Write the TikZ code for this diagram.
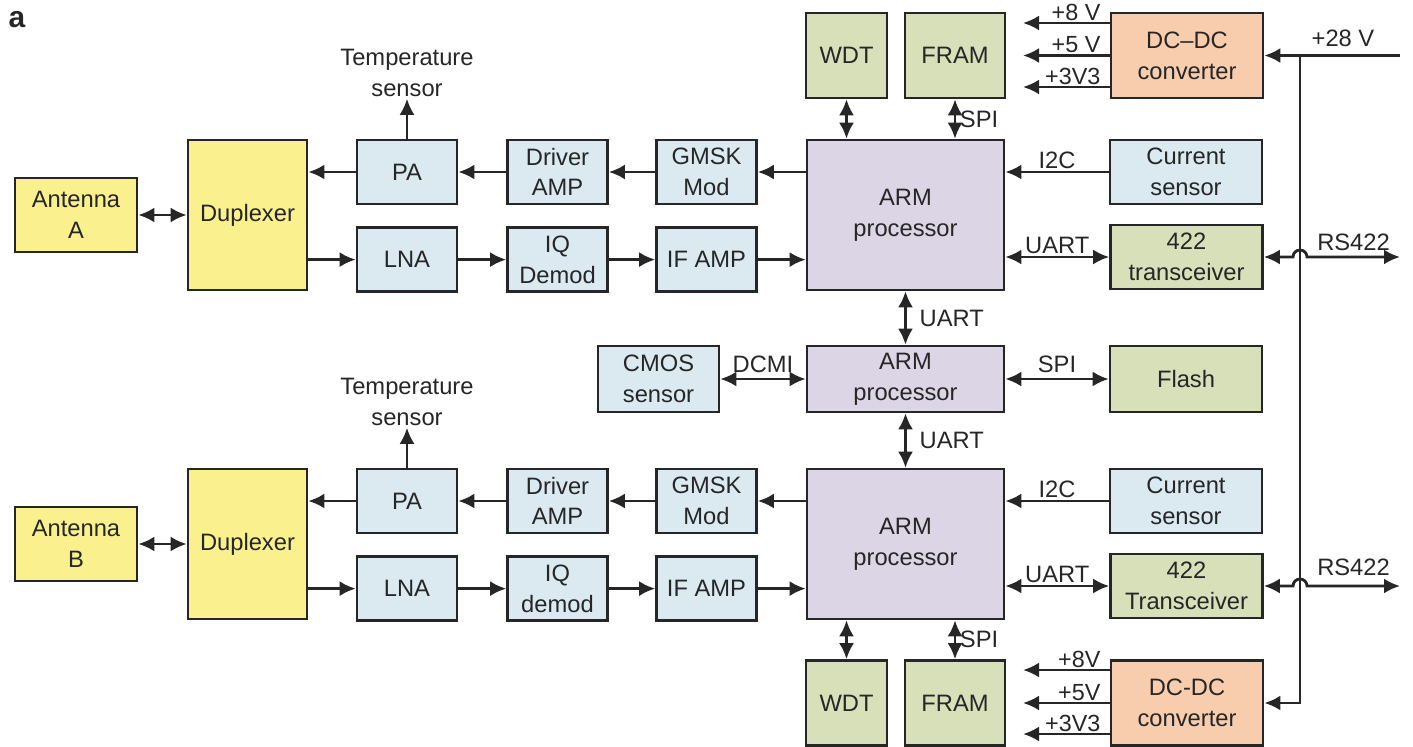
\documentclass[tikz,border=0pt]{standalone}
\usepackage{fontspec}
\setmainfont{Liberation Sans}
\usepackage{tikz}
\usetikzlibrary{arrows.meta,calc,positioning}
\definecolor{SATYellow}{HTML}{FBF08E}
\definecolor{SATBlue}{HTML}{DBEAF1}
\definecolor{SATGreen}{HTML}{D7E0B9}
\definecolor{SATPurple}{HTML}{DCD5E6}
\definecolor{SATOrange}{HTML}{F8CDAE}
\definecolor{SATLine}{HTML}{262626}
\definecolor{SATText}{HTML}{262626}

\begin{document}
\begin{tikzpicture}[x=0.02cm,y=-0.02cm,
    box/.style={draw=SATLine,line width=1.5pt,align=center,inner sep=0pt,
      text=SATText,font=\fontsize{13.5}{17.5}\selectfont},
    rf/.style={box,fill=SATYellow},
    blk/.style={box,fill=SATBlue,minimum width=2cm,minimum height=1.28cm},
    mem/.style={box,fill=SATGreen,minimum height=1.7cm},
    side/.style={box,minimum width=3.04cm,minimum height=1.28cm},
    cpu/.style={box,fill=SATPurple,minimum width=3.94cm},
    pwr/.style={box,fill=SATOrange,minimum width=3.04cm,minimum height=1.7cm},
    lbl/.style={text=SATText,font=\fontsize{13.5}{17.5}\selectfont,inner sep=1pt,align=center},
    vlbl/.style={text=SATText,font=\fontsize{13.3}{14}\selectfont,inner sep=0.5pt,
      anchor=south east,xshift=-0.14cm},
    arrow/.style={-{Latex[length=3.2mm,width=3mm]},line width=1.6pt,draw=SATLine},
    both/.style={arrow,{Latex[length=3.2mm,width=3mm]}-{Latex[length=3.2mm,width=3mm]}}
  ]
  \useasboundingbox (0,0) rectangle (1413,747);
  \node[font=\bfseries\fontsize{17}{17}\selectfont,text=SATText] (panel) at (17,20) {a};

  % upper channel
  \node[rf,minimum width=2.44cm,minimum height=1.48cm] (antA) at (76,215) {Antenna\\A};
  \node[rf,minimum width=2.38cm,minimum height=3cm] (dupA) at (247.5,215) {Duplexer};
  \node[blk] (paA) at (407,172) {PA};
  \node[blk,below=0.42cm of paA] (lnaA) {LNA};
  \node[blk] (drvA) at (557.5,172) {Driver\\AMP};
  \node[blk,below=0.42cm of drvA] (iqA) {IQ\\Demod};
  \node[blk] (gmskA) at (706.5,172) {GMSK\\Mod};
  \node[blk,below=0.42cm of gmskA] (ifA) {IF AMP};
  \node[cpu,minimum height=3cm] (armA) at (905.5,215) {ARM\\processor};
  \node[lbl,inner sep=1pt] (tempA) at (407,73) {Temperature\\sensor};
  \node[mem,minimum width=1.62cm] (wdtA) at (846.5,55.5) {WDT};
  \node[mem,minimum width=2cm] (framA) at (955,55.5) {FRAM};
  \node[pwr] (dcA) at (1187,55.5) {DC–DC\\converter};
  \node[side,fill=SATBlue] (curA) at (1186,172) {Current\\sensor};
  \node[side,fill=SATGreen] (trxA) at (1186.5,257) {422\\transceiver};

  % camera
  \node[box,fill=SATBlue,minimum width=2.42cm,minimum height=1.32cm] (cmos) at (658.5,379) {CMOS\\sensor};
  \node[cpu,minimum height=1.32cm] (armM) at (905.5,379) {ARM\\processor};
  \node[side,fill=SATGreen,minimum height=1.32cm] (flash) at (1186,379) {Flash};

  % lower channel
  \node[rf,minimum width=2.44cm,minimum height=1.48cm] (antB) at (76,544) {Antenna\\B};
  \node[rf,minimum width=2.38cm,minimum height=3cm] (dupB) at (247.5,544) {Duplexer};
  \node[blk] (paB) at (407,501) {PA};
  \node[blk,below=0.42cm of paB] (lnaB) {LNA};
  \node[blk] (drvB) at (557.5,501) {Driver\\AMP};
  \node[blk,below=0.42cm of drvB] (iqB) {IQ\\demod};
  \node[blk] (gmskB) at (706.5,501) {GMSK\\Mod};
  \node[blk,below=0.42cm of gmskB] (ifB) {IF AMP};
  \node[cpu,minimum height=3cm] (armB) at (905.5,544) {ARM\\processor};
  \node[lbl,inner sep=1pt] (tempB) at (407,402) {Temperature\\sensor};
  \node[mem,minimum width=1.62cm] (wdtB) at (846.5,703) {WDT};
  \node[mem,minimum width=2cm] (framB) at (955,703) {FRAM};
  \node[pwr] (dcB) at (1187,703) {DC-DC\\converter};
  \node[side,fill=SATBlue] (curB) at (1186,501) {Current\\sensor};
  \node[side,fill=SATGreen] (trxB) at (1186.5,586) {422\\Transceiver};

  % free ends
  \coordinate (in28) at (1400,55.5);
  \coordinate (bus) at (1300,55.5);
  \coordinate (rsA) at (1400,257);
  \coordinate (rsB) at (1400,586);
  \coordinate (v8A) at (1023,23);
  \coordinate (v5A) at (1023,55.5);
  \coordinate (v3A) at (1023,87);
  \coordinate (v8B) at (1023,670);
  \coordinate (v5B) at (1023,703);
  \coordinate (v3B) at (1023,734);

  % upper RF chain
  \draw[both] (antA) -- (dupA);
  \draw[arrow] (paA) -- (paA -| dupA.east);
  \draw[arrow] (dupA.east |- lnaA) -- (lnaA);
  \draw[arrow] (drvA) -- (paA);
  \draw[arrow] (gmskA) -- (drvA);
  \draw[arrow] (armA.west |- gmskA) -- (gmskA);
  \draw[arrow] (lnaA) -- (iqA);
  \draw[arrow] (iqA) -- (ifA);
  \draw[arrow] (ifA) -- (ifA -| armA.west);
  \draw[arrow] (paA) -- (tempA);
  \draw[both] (wdtA.south) -- (wdtA.south |- armA.north);
  \draw[both] (framA.south) -- (framA.south |- armA.north)
    node[lbl,midway,anchor=west,xshift=1pt] {SPI};
  \draw[arrow] (curA) -- (curA -| armA.east) node[lbl,midway,above] {I2C};
  \draw[both] (armA.east |- trxA) -- (trxA) node[lbl,midway,above] {UART};
  \draw[both] (trxA) -- ($(trxA -| bus)+(-7,0)$)
    arc[start angle=180,end angle=0,radius=0.14cm] -- (rsA)
    node[lbl,midway,above,yshift=2pt] {RS422};

  % processors
  \draw[both] (armA) -- (armM) node[lbl,midway,anchor=west,xshift=0.22cm] {UART};
  \draw[both] (armM) -- (armB) node[lbl,midway,anchor=west,xshift=0.22cm] {UART};
  \draw[both] (cmos) -- (armM) node[lbl,midway,above,yshift=2pt] {DCMI};
  \draw[both] (armM) -- (flash) node[lbl,midway,above,yshift=2pt] {SPI};

  % lower RF chain
  \draw[both] (antB) -- (dupB);
  \draw[arrow] (paB) -- (paB -| dupB.east);
  \draw[arrow] (dupB.east |- lnaB) -- (lnaB);
  \draw[arrow] (drvB) -- (paB);
  \draw[arrow] (gmskB) -- (drvB);
  \draw[arrow] (armB.west |- gmskB) -- (gmskB);
  \draw[arrow] (lnaB) -- (iqB);
  \draw[arrow] (iqB) -- (ifB);
  \draw[arrow] (ifB) -- (ifB -| armB.west);
  \draw[arrow] (paB) -- (tempB);
  \draw[both] (wdtB.north) -- (wdtB.north |- armB.south);
  \draw[both] (framB.north) -- (framB.north |- armB.south)
    node[lbl,midway,anchor=west,xshift=1pt] {SPI};
  \draw[arrow] (curB) -- (curB -| armB.east) node[lbl,midway,above] {I2C};
  \draw[both] (armB.east |- trxB) -- (trxB) node[lbl,midway,above] {UART};
  \draw[both] (trxB) -- ($(trxB -| bus)+(-7,0)$)
    arc[start angle=180,end angle=0,radius=0.14cm] -- (rsB)
    node[lbl,midway,above,yshift=4pt] {RS422};

  % power
  \draw[arrow] (in28) -- (dcA) node[lbl,pos=0.42,above,yshift=3pt] {+28 V};
  \draw[arrow] (bus) |- (dcB);
  \draw[arrow] (v8A -| dcA.west) -- (v8A) node[vlbl,pos=0] {+8 V};
  \draw[arrow] (v5A -| dcA.west) -- (v5A) node[vlbl,pos=0] {+5 V};
  \draw[arrow] (v3A -| dcA.west) -- (v3A) node[vlbl,pos=0] {+3V3};
  \draw[arrow] (v8B -| dcB.west) -- (v8B) node[vlbl,pos=0] {+8V};
  \draw[arrow] (v5B -| dcB.west) -- (v5B) node[vlbl,pos=0] {+5V};
  \draw[arrow] (v3B -| dcB.west) -- (v3B) node[vlbl,pos=0] {+3V3};
\end{tikzpicture}
\end{document}
